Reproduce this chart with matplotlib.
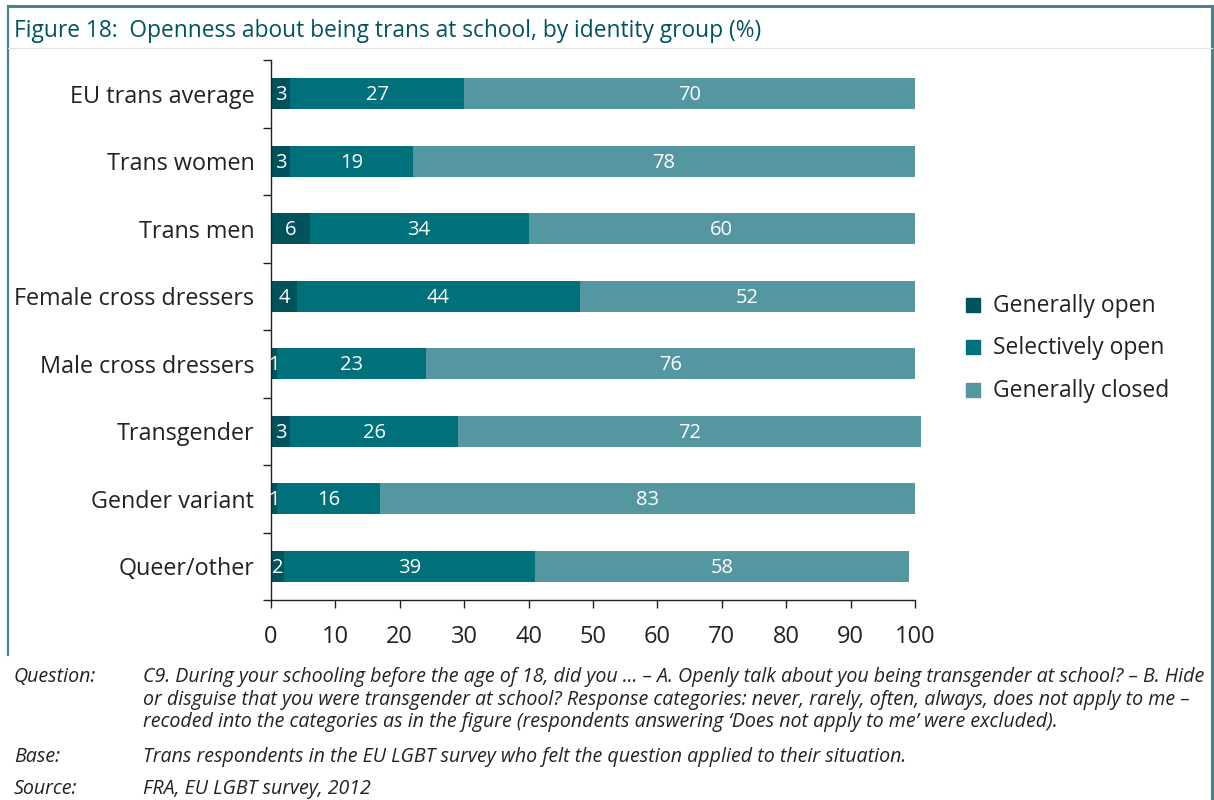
import matplotlib
matplotlib.use("Agg")
import matplotlib.pyplot as plt
from matplotlib.lines import Line2D
from matplotlib.patches import Rectangle
import numpy as np

categories = ["EU trans average", "Trans women", "Trans men", "Female cross dressers",
              "Male cross dressers", "Transgender", "Gender variant", "Queer/other"]
generally_open = [3, 3, 6, 4, 1, 3, 1, 2]
selectively_open = [27, 19, 34, 44, 23, 26, 16, 39]
generally_closed = [70, 78, 60, 52, 76, 72, 83, 58]
series_names = ["Generally open", "Selectively open", "Generally closed"]
colors = ["#00525b", "#00717a", "#5597a1"]
x_ticks = [0, 10, 20, 30, 40, 50, 60, 70, 80, 90, 100]

title = "Figure 18:  Openness about being trans at school, by identity group (%)"
notes = [
    ("Question:", "C9. During your schooling before the age of 18, did you ... \u2013 A. Openly talk about you being transgender at school? \u2013 B. Hide\n"
                  "or disguise that you were transgender at school? Response categories: never, rarely, often, always, does not apply to me \u2013\n"
                  "recoded into the categories as in the figure (respondents answering \u2018Does not apply to me\u2019 were excluded)."),
    ("Base:", "Trans respondents in the EU LGBT survey who felt the question applied to their situation."),
    ("Source:", "FRA, EU LGBT survey, 2012"),
]

plt.rcParams['font.family'] = ['Open Sans', 'DejaVu Sans']

W, H = 1214, 800
fig = plt.figure(figsize=(W / 100, H / 100), dpi=100)

def fx(px):
    return px / W

def fy(py):
    return 1 - py / H

# frame
frame_c = "#4a8489"
fig.add_artist(Line2D([fx(8), fx(1212)], [fy(6), fy(6)], color=frame_c, lw=2.2))
fig.add_artist(Line2D([fx(8), fx(8)], [fy(6), fy(655)], color=frame_c, lw=1.6))
fig.add_artist(Line2D([fx(1212), fx(1212)], [fy(6), fy(800)], color=frame_c, lw=2.2))
fig.add_artist(Line2D([fx(8), fx(1212)], [fy(48), fy(48)], color="#dbe7e8", lw=0.8))

fig.text(fx(14), fy(31), title, fontsize=16.4, color="#00545e", va="center", ha="left")

ax = fig.add_axes([fx(271), fy(600), fx(915) - fx(271), fy(60) - fy(600)])
n = len(categories)
y = np.arange(n)
left = np.zeros(n)
series = [generally_open, selectively_open, generally_closed]
for vals, name, c in zip(series, series_names, colors):
    vals = np.array(vals, dtype=float)
    ax.barh(y, vals, left=left, height=0.46, color=c, label=name, clip_on=False)
    for yi, (l, v) in enumerate(zip(left, vals)):
        ax.text(l + v / 2, yi + 0.02, f"{int(v)}", color="white", ha="center", va="center",
                fontsize=14.5)
    left += vals

ax.set_xlim(0, 100)
ax.set_ylim(n - 0.5, -0.5)
ax.set_xticks(x_ticks)
ax.set_xticklabels([str(t) for t in x_ticks], fontsize=17, color="#222222")
ax.set_yticks(y)
ax.set_yticklabels(categories, fontsize=16.8, color="#222222")
for lbl in ax.get_yticklabels():
    lbl.set_va("center_baseline")
ax.set_yticks(np.arange(-0.5, n, 1.0), minor=True)
ax.tick_params(axis='y', which='major', length=0, pad=12)
ax.tick_params(axis='y', which='minor', length=6, width=1, color="#222222", direction='out')
ax.tick_params(axis='x', which='major', length=6, width=1, color="#222222", direction='out', pad=12)
for s in ["top", "right"]:
    ax.spines[s].set_visible(False)
for s in ["left", "bottom"]:
    ax.spines[s].set_color("#222222")
    ax.spines[s].set_linewidth(1)

# legend
leg_y = [306, 348, 391]
for name, c, ly in zip(series_names, colors, leg_y):
    fig.add_artist(Rectangle((fx(966), fy(ly + 6)), fx(14), 14 / H, color=c, transform=fig.transFigure))
    fig.text(fx(993), fy(ly), name, fontsize=16.5, color="#222222", va="center", ha="left")

# notes
note_font = ['Open Sans', 'DejaVu Sans']
note_y = [667, 747, 779]
for (lab, txt), ny in zip(notes, note_y):
    fig.text(fx(14), fy(ny), lab, fontsize=14.1, style='italic', color="#222222",
             va="top", ha="left", family=note_font)
    fig.text(fx(143), fy(ny), txt, fontsize=14.1, style='italic', color="#222222",
             va="top", ha="left", family=note_font, linespacing=1.18)

fig.savefig("out.png", dpi=100)
